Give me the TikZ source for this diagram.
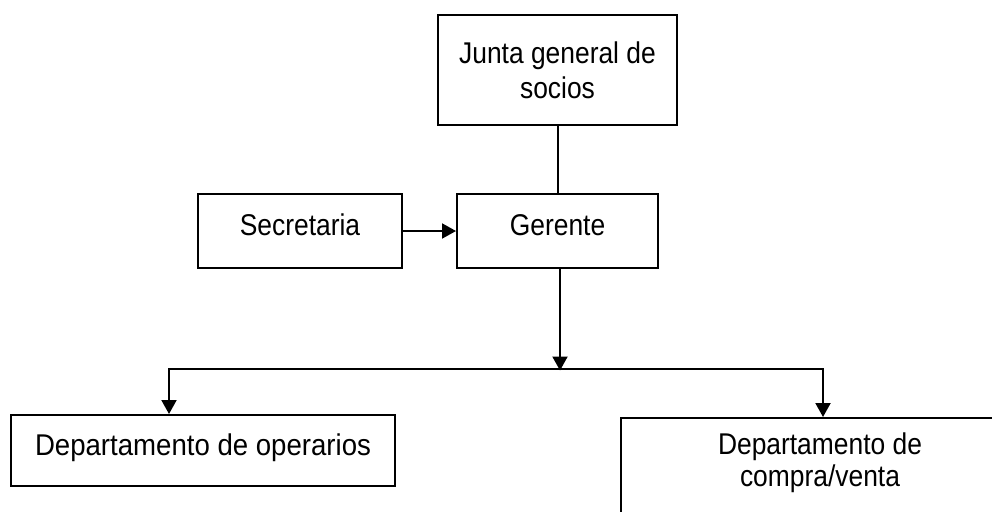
\documentclass[tikz,border=0pt]{standalone}
\usepackage{fontspec}
\setmainfont{Liberation Sans}
\newfontfamily\condfont{Liberation Sans}[FakeStretch=0.88]
\newfontfamily\semicondfont{Liberation Sans}[FakeStretch=0.92]
\usetikzlibrary{arrows.meta}
\begin{document}
\begin{tikzpicture}[x=1pt,y=-1pt,
  box/.style={draw, line width=2pt, inner sep=0pt, align=center,
    font=\condfont\fontsize{30}{35}\selectfont},
  oneline/.style={text height=22pt, text depth=14pt},
  conn/.style={line width=2pt},
  arr/.style={conn, -{Triangle[length=14pt,width=15pt]}}]
\useasboundingbox (0,0) rectangle (992,511);
\clip (0,0) rectangle (992,511);
\node[box, minimum width=239pt, minimum height=110pt] (junta) at (557.5,70) {Junta general de\\socios};
\node[box, oneline, minimum width=201pt, minimum height=74pt] (ger) at (557.5,231) {Gerente};
\node[box, oneline, minimum width=204pt, minimum height=74pt] (sec) at (300,231) {Secretaria};
\node[box, oneline, text depth=13pt, minimum width=384pt, minimum height=71pt,
  font=\semicondfont\fontsize{30}{35}\selectfont] (ops) at (203,450.5) {Departamento de operarios};
\node[box, minimum width=400pt, minimum height=120pt, anchor=north west] (cv) at (620,417) {};
\node[align=center, inner sep=0pt, font=\condfont\fontsize{30}{32}\selectfont] (cvtext) at (820,463) {Departamento de\\compra/venta};
\coordinate (jc) at (560,368.5);
\coordinate (jl) at (169,368.5);
\coordinate (jr) at (823,368.5);
\draw[conn] (junta.south) -- (ger.north);
\draw[arr] (sec) -- (ger);
\draw[arr] (ger.south -| jc) -- ([yshift=-2pt]jc);
\draw[arr] (jc) -| (jl |- ops.north);
\draw[arr] (jc) -| (jr |- cv.north);
\end{tikzpicture}
\end{document}
